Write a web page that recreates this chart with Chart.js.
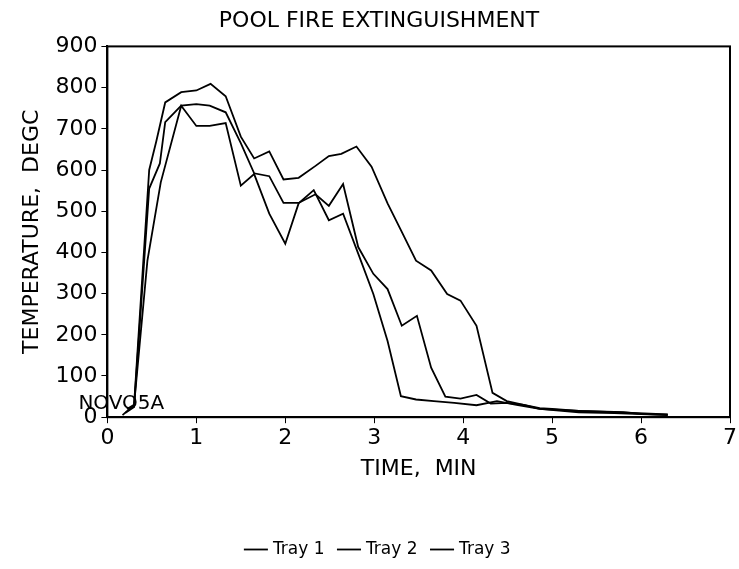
<!DOCTYPE html>
<html>
<head>
<meta charset="utf-8">
<script src="https://cdn.jsdelivr.net/npm/chart.js@4/dist/chart.umd.min.js"></script>
<style>
  html, body { margin: 0; padding: 0; background: #fff; }
  #wrap { width: 739px; height: 569px; }
</style>
</head>
<body>
<div id="wrap"><canvas id="myChart" width="739" height="569"></canvas></div>
<script>
// Tray 1 (lowest plateau)
var tray1Time = [0.22, 0.3, 0.45, 0.6, 0.83, 1.0, 1.15, 1.33, 1.5, 1.65, 1.82, 2.0, 2.15, 2.32, 2.49, 2.65, 2.82, 2.99, 3.15, 3.3, 3.47, 3.67, 3.9, 4.15, 4.38, 4.6, 4.86, 5.3, 5.7, 6.3];
var tray1Temp = [20, 30, 380, 570, 756, 707, 707, 714, 562, 590, 494, 421, 519, 551, 478, 494, 397, 299, 185, 51, 43, 39, 35, 29, 39, 30, 20, 15, 12, 7];
// Tray 2 (middle)
var tray2Time = [0.2, 0.3, 0.47, 0.59, 0.65, 0.83, 1.0, 1.15, 1.33, 1.5, 1.65, 1.82, 1.98, 2.15, 2.34, 2.49, 2.65, 2.82, 2.99, 3.15, 3.31, 3.48, 3.64, 3.8, 3.97, 4.15, 4.31, 4.49, 4.68, 4.86, 5.3, 5.7, 6.3];
var tray2Temp = [10, 25, 555, 616, 716, 756, 760, 756, 740, 665, 592, 585, 520, 520, 541, 513, 566, 413, 348, 311, 222, 246, 120, 50, 45, 54, 33, 35, 30, 20, 12, 10, 5];
// Tray 3 (highest, slowest to extinguish)
var tray3Time = [0.17, 0.3, 0.47, 0.55, 0.65, 0.83, 1.0, 1.16, 1.33, 1.5, 1.65, 1.82, 1.98, 2.15, 2.34, 2.49, 2.63, 2.8, 2.97, 3.15, 3.3, 3.47, 3.64, 3.82, 3.97, 4.15, 4.33, 4.49, 4.68, 4.86, 5.0, 5.3, 5.5, 5.8, 6.0, 6.3];
var tray3Temp = [5, 30, 600, 670, 764, 789, 793, 809, 779, 681, 628, 645, 577, 581, 610, 634, 639, 657, 608, 519, 454, 380, 356, 299, 283, 222, 59, 39, 30, 22, 20, 15, 14, 12, 8, 6];

var xTicks = [0, 1, 2, 3, 4, 5, 6, 7];
var yTicks = [0, 100, 200, 300, 400, 500, 600, 700, 800, 900];

var FONT = "'DejaVu Sans', sans-serif";

function pts(t, v) {
  return t.map(function (x, i) { return { x: x, y: v[i] }; });
}

var frame = {
  id: 'frame',
  afterDraw: function (chart) {
    var a = chart.chartArea, c = chart.ctx;
    c.save();
    c.strokeStyle = '#000';
    c.lineWidth = 2;
    c.strokeRect(a.left, a.top, a.right - a.left, a.bottom - a.top);
    c.font = '20px ' + FONT;
    c.fillStyle = '#000';
    c.textBaseline = 'alphabetic';
    c.fillText('NOVO5A', a.left - 29, a.bottom - 8);
    c.restore();
  }
};

var ctx = document.getElementById('myChart').getContext('2d');
var myChart = new Chart(ctx, {
  type: 'line',
  data: {
    datasets: [{
      label: 'Tray 1',
      data: pts(tray1Time, tray1Temp),
      borderColor: '#000', borderWidth: 1.8
    }, {
      label: 'Tray 2',
      data: pts(tray2Time, tray2Temp),
      borderColor: '#000', borderWidth: 1.8
    }, {
      label: 'Tray 3',
      data: pts(tray3Time, tray3Temp),
      borderColor: '#000', borderWidth: 1.8
    }]
  },
  options: {
    responsive: false,
    animation: false,
    layout: { padding: { left: 19, right: 0, top: 0, bottom: 1 } },
    elements: { point: { radius: 0 }, line: { tension: 0 } },
    plugins: {
      title: {
        display: true, text: 'POOL FIRE EXTINGUISHMENT', color: '#000',
        font: { family: FONT, size: 22, weight: 'normal' },
        padding: { top: 8, bottom: 12 }
      },
      legend: {
        position: 'bottom',
        labels: {
          color: '#000', usePointStyle: true, pointStyle: 'line',
          boxWidth: 44, padding: 16,
          font: { family: FONT, size: 17 }
        }
      },
      tooltip: { enabled: false }
    },
    scales: {
      x: {
        type: 'linear', min: 0, max: 7,
        afterBuildTicks: function (s) { s.ticks = xTicks.map(function (v) { return { value: v }; }); },
        ticks: { color: '#000', font: { family: FONT, size: 22 }, padding: 2 },
        grid: { drawOnChartArea: false, drawTicks: true, tickLength: 6, color: '#000' },
        border: { display: true, color: '#000', width: 2 },
        title: {
          display: true, text: 'TIME,  MIN', color: '#000',
          font: { family: FONT, size: 22 }, padding: { top: 2, bottom: 43 }
        }
      },
      y: {
        min: 0, max: 900,
        afterBuildTicks: function (s) { s.ticks = yTicks.map(function (v) { return { value: v }; }); },
        ticks: { color: '#000', font: { family: FONT, size: 22 }, padding: 4 },
        grid: { drawOnChartArea: false, drawTicks: true, tickLength: 6, color: '#000' },
        border: { display: true, color: '#000', width: 2 },
        title: {
          display: true, text: 'TEMPERATURE,  DEGC', color: '#000',
          font: { family: FONT, size: 22 }, padding: { top: 0, bottom: 6 }
        }
      }
    }
  },
  plugins: [frame]
});
</script>
</body>
</html>
